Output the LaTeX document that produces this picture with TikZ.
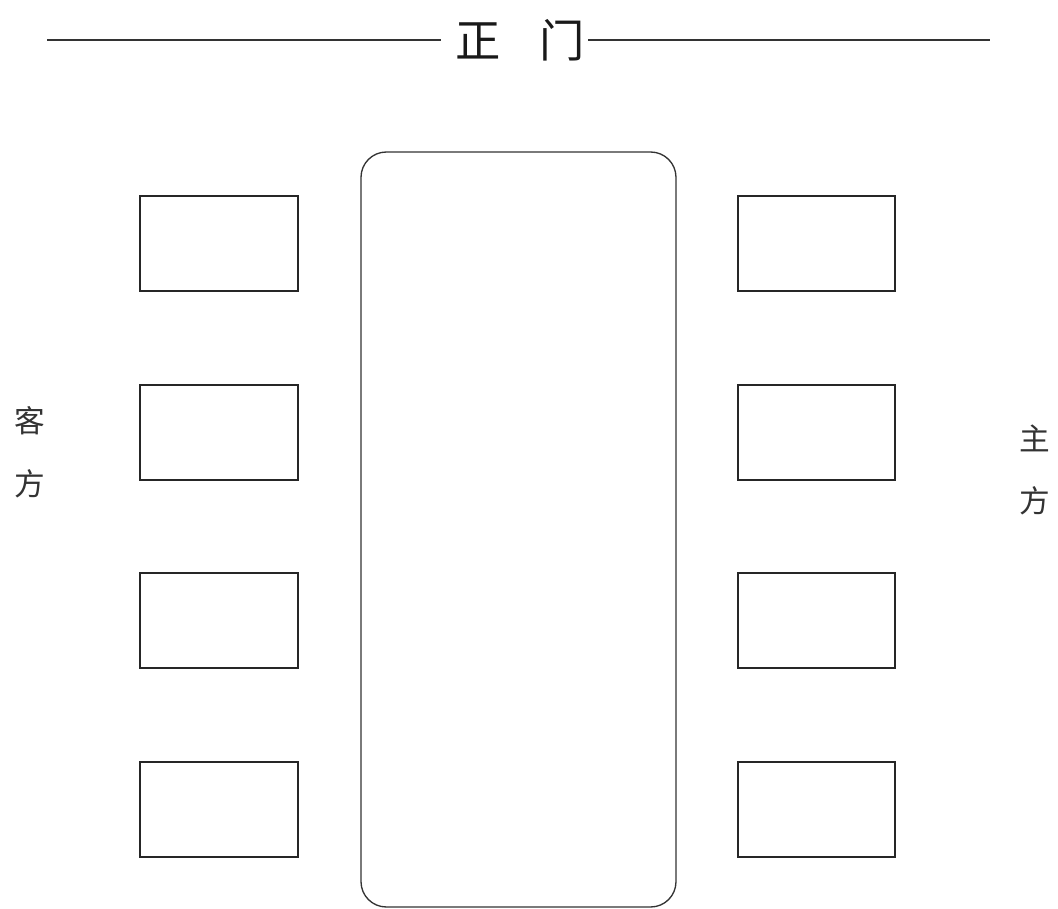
\documentclass[tikz,border=0pt]{standalone}
\usepackage{fontspec}
\newfontfamily\cjk{Noto Sans CJK SC}
\begin{document}
\begin{tikzpicture}[x=0.75pt,y=-0.75pt,
  seat/.style={draw=black!85,line width=1pt,fill=white},
  tablebox/.style={draw=black!80,line width=1pt,rounded corners=19pt},
  wall/.style={draw=black!80,line width=1pt},
  big/.style={font=\cjk\fontsize{34}{34}\selectfont,inner sep=0pt,text=black!90},
  side/.style={font=\cjk\fontsize{23}{47}\selectfont,inner sep=0pt,text=black!80,align=center}]
\useasboundingbox (0,0) rectangle (1058,909);
% door
\node[big] (door) at (520,40) {正\hspace{0.85em}门};
\coordinate (wl) at (47,40);
\coordinate (wle) at (441,40);
\coordinate (wrs) at (588,40);
\coordinate (wr) at (990,40);
\draw[wall] (wl) -- (wle);
\draw[wall] (wrs) -- (wr);
% table
\draw[tablebox] (361,152) rectangle (676,907);
\node (table) at (518.5,529.5) {};
% seats
\foreach \i/\y in {1/196,2/385,3/573,4/762}{
  \draw[seat] (140,\y) rectangle (298,\y+95);
  \node (L\i) at (219,\y+47.5) {};
  \draw[seat] (738,\y) rectangle (895,\y+95);
  \node (R\i) at (816.5,\y+47.5) {};
}
\node[side] (guest) at (30,452) {客\\方};
\node[side] (host) at (1035,470) {主\\方};
\end{tikzpicture}
\end{document}
